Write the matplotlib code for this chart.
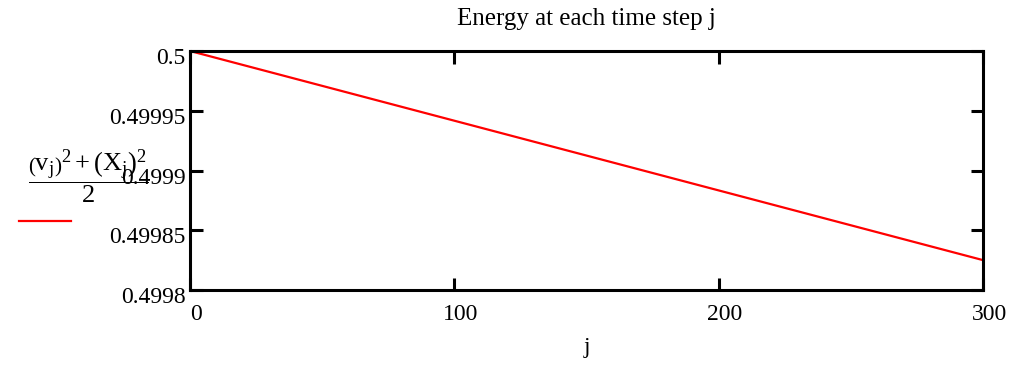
import matplotlib
matplotlib.use("Agg")
import matplotlib.pyplot as plt
from matplotlib.transforms import ScaledTranslation

plt.rcParams.update(
    {
        "font.family": "Liberation Serif",
        "font.size": 17,
        "mathtext.fontset": "custom",
        "mathtext.rm": "Liberation Serif",
        "mathtext.it": "Liberation Serif:italic",
        "mathtext.bf": "Liberation Serif:bold",
    }
)

# data: energy decays linearly over the steps
j = [0, 300]
energy = [0.5, 0.499825]
x_ticks = [0, 100, 200, 300]
y_ticks = [0.4998, 0.49985, 0.4999, 0.49995, 0.5]
y_tick_labels = ["0.4998", "0.49985", "0.4999", "0.49995", "0.5"]

fig = plt.figure(figsize=(10.12, 3.66), dpi=100)
ax = fig.add_axes([190 / 1012, 1 - 290 / 366, (983 - 190) / 1012, (290 - 51) / 366])

(ln,) = ax.plot(j, energy, color="#ff0000", linewidth=1.6)

ax.set_xlim(0, 300)
ax.set_ylim(0.4998, 0.5)
ax.set_xticks(x_ticks)
ax.set_xticklabels([str(t) for t in x_ticks])
ax.set_yticks(y_ticks)
ax.set_yticklabels(y_tick_labels)

for s in ax.spines.values():
    s.set_linewidth(2.2)
ax.tick_params(direction="in", length=9, width=2.2, top=True, right=True)
ax.tick_params(axis="x", pad=10)
ax.tick_params(axis="y", pad=3)

# shift tick labels like the original layout
for lab in ax.get_xticklabels():
    lab.set_transform(lab.get_transform() + ScaledTranslation(6 / 100, 0, fig.dpi_scale_trans))
for lab in ax.get_yticklabels():
    lab.set_transform(lab.get_transform() + ScaledTranslation(0, -5 / 100, fig.dpi_scale_trans))

ax.set_title("Energy at each time step j", pad=19, fontsize=18)
ax.set_xlabel("j", labelpad=9)

# y label: Mathcad style fraction
fig.text(
    88 / 1012,
    1 - 177 / 366,
    r"$\dfrac{\left(\mathrm{v_j}\right)^2+\left(\mathrm{X_j}\right)^2}{2}$",
    ha="center",
    va="center",
    fontsize=19,
)

ax.legend(
    handles=[ln],
    labels=[""],
    loc="center left",
    bbox_to_anchor=(19 / 1012, 1 - 223 / 366),
    bbox_transform=fig.transFigure,
    frameon=False,
    borderpad=0,
    borderaxespad=0,
    handletextpad=0,
    handlelength=2.2,
)

fig.savefig("out.png", dpi=100)
